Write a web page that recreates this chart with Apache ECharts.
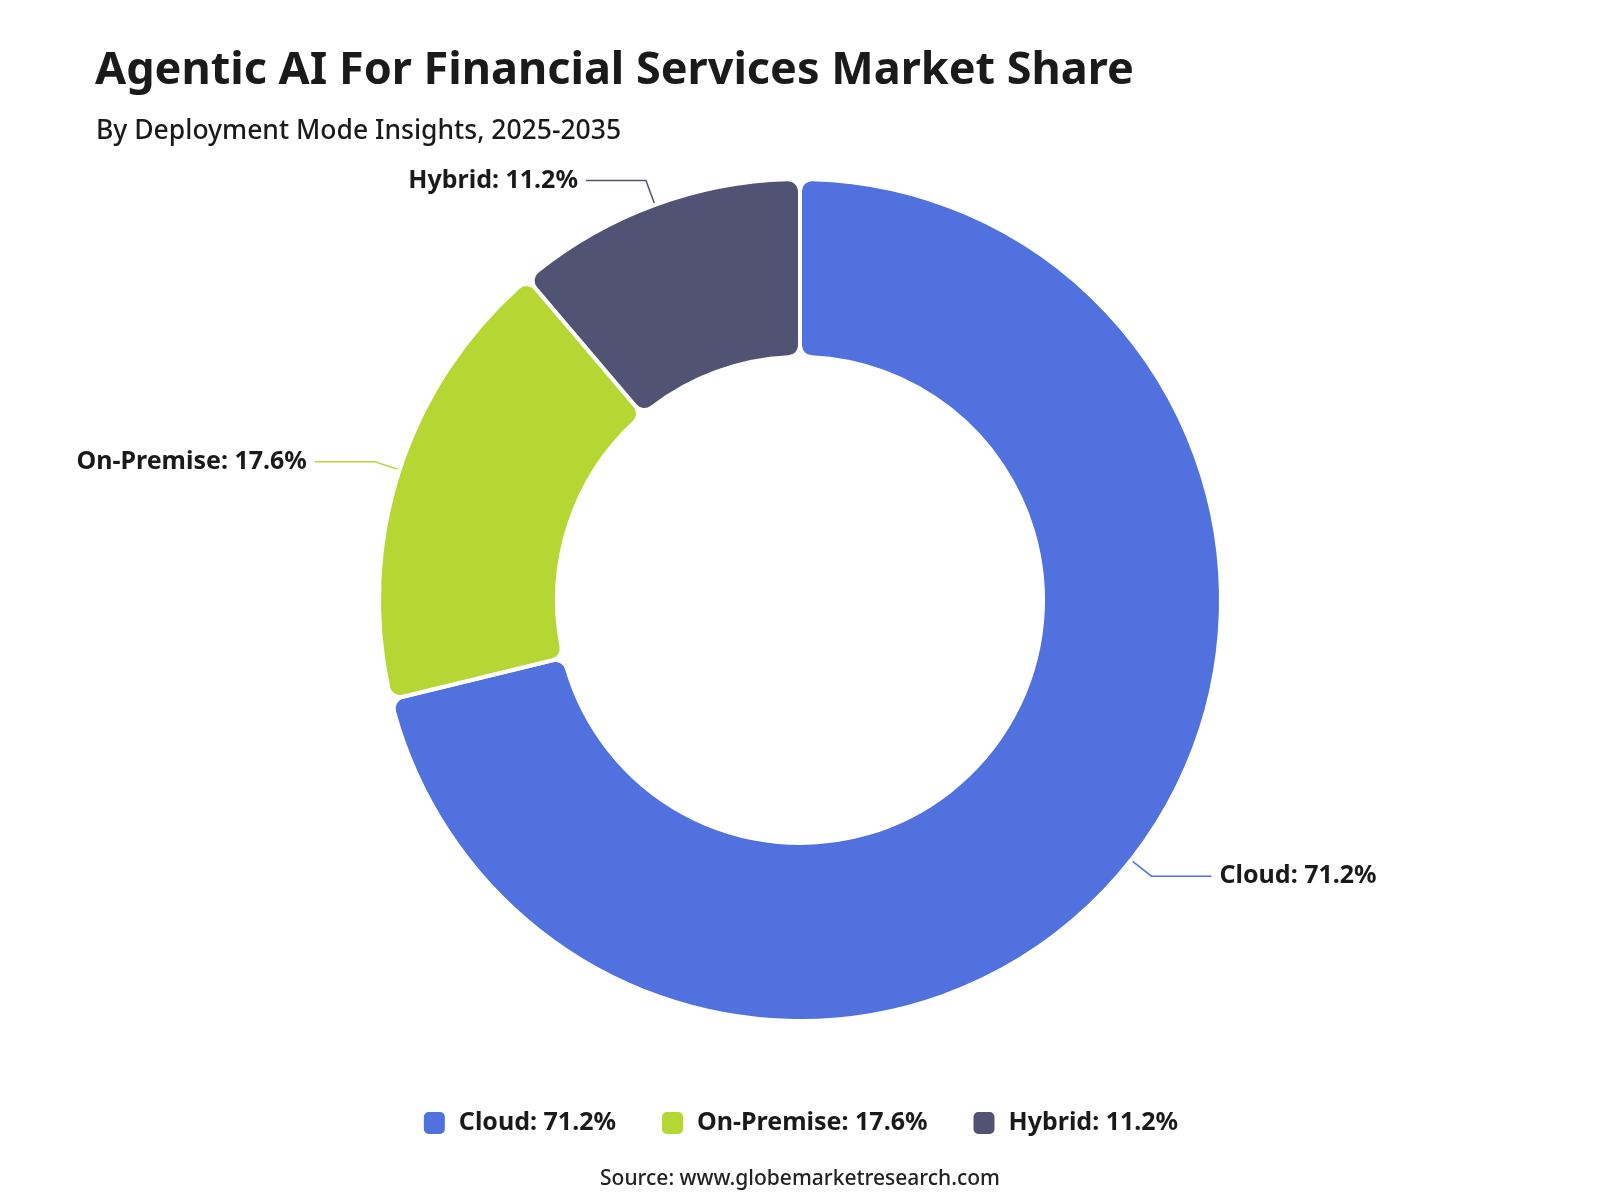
<!DOCTYPE html>
<html>
<head>
<meta charset="utf-8">
<script src="https://cdn.jsdelivr.net/npm/echarts@6/dist/echarts.min.js"></script>
<style>
  html, body { margin: 0; padding: 0; background: #fff; }
  #chart { width: 1600px; height: 1200px; }
</style>
</head>
<body>
<div id="chart"></div>
<script>
const categories = ['Cloud', 'On-Premise', 'Hybrid'];
const shares = [71.2, 17.6, 11.2];
const colors = ['#5071de', '#b6d733', '#505373'];

const FONT = '"Noto Sans", "Open Sans", sans-serif';

const chart = echarts.init(document.getElementById('chart'), null, { width: 1600, height: 1200 });

const pieData = categories.map((name, i) => ({
  name,
  value: shares[i],
  itemStyle: { color: colors[i] },
  labelLine: { lineStyle: { color: colors[i], width: 1.5 } },
}));

chart.setOption({
  backgroundColor: '#ffffff',
  title: [
    {
      text: 'Agentic AI For Financial Services Market Share',
      left: 90, top: 44,
      textStyle: { fontFamily: FONT, fontSize: 45, fontWeight: 'bold', color: '#1a1a1a' },
    },
    {
      text: 'By Deployment Mode Insights, 2025-2035',
      left: 91, top: 113,
      textStyle: { fontFamily: FONT, fontSize: 26.5, fontWeight: 500, color: '#1a1a1a' },
    },
    {
      text: 'Source: www.globemarketresearch.com',
      left: 'center', top: 1164,
      textStyle: { fontFamily: FONT, fontSize: 21, fontWeight: 500, color: '#222' },
    },
  ],
  legend: {
    data: categories,
    left: 'center',
    top: 1105,
    icon: 'roundRect',
    itemWidth: 23,
    itemHeight: 24,
    itemGap: 44,
    formatter: (name) => `${name}: ${shares[categories.indexOf(name)]}%`,
    textStyle: { fontFamily: FONT, fontSize: 25, fontWeight: 'bold', color: '#1a1a1a', padding: [0, 0, 0, 8] },
  },
  series: [{
    type: 'pie',
    center: [800, 600],
    radius: [243, 421],
    startAngle: 90,
    clockwise: true,
    avoidLabelOverlap: true,
    itemStyle: { borderColor: '#ffffff', borderWidth: 4, borderRadius: 12 },
    label: {
      show: true,
      formatter: '{b}: {c}%',
      fontFamily: FONT,
      fontSize: 25,
      fontWeight: 'bold',
      color: '#1a1a1a',
      distanceToLabelLine: 8,
    },
    labelLine: { show: true, length: 26, length2: 60 },
    emphasis: { scale: false },
    data: pieData,
  }],
});
</script>
</body>
</html>
